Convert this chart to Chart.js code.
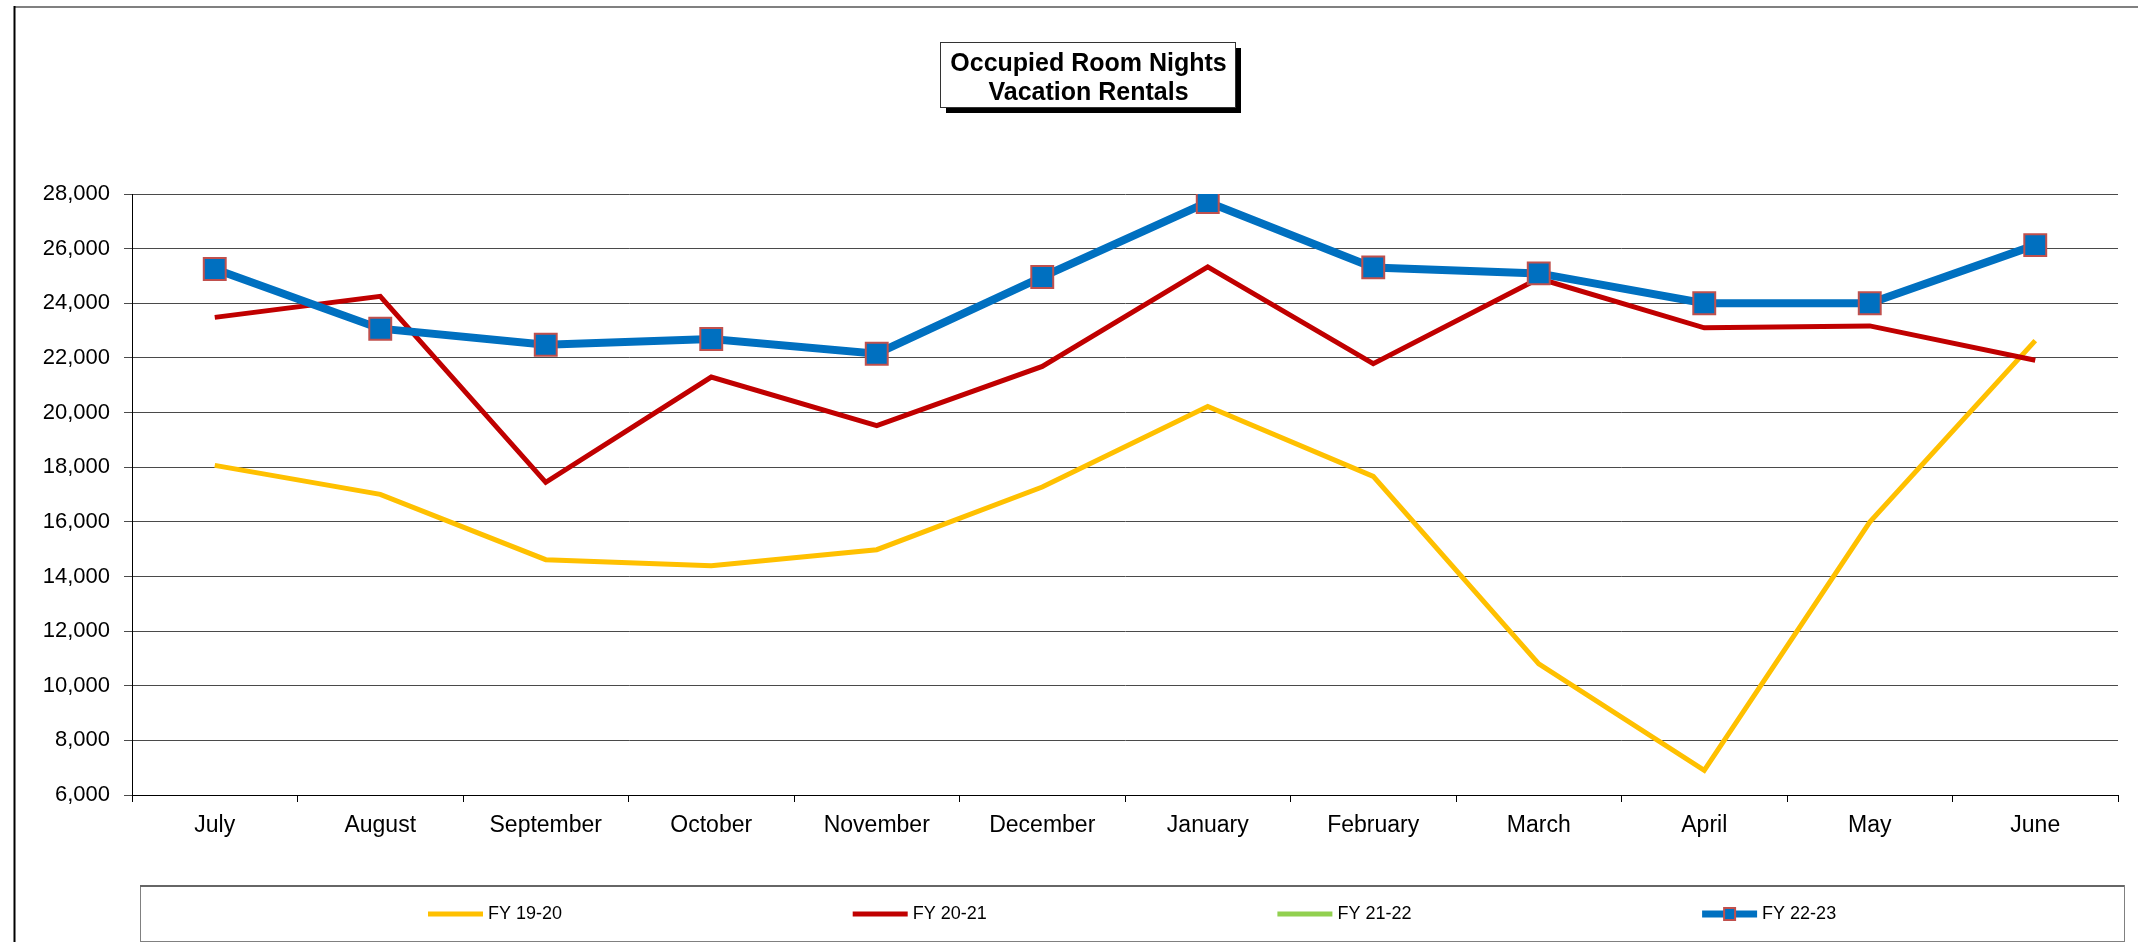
<!DOCTYPE html>
<html><head><meta charset="utf-8">
<script src="https://cdn.jsdelivr.net/npm/chart.js@4.4.1/dist/chart.umd.min.js"></script>
<style>html,body{margin:0;padding:0;background:#fff;overflow:hidden}#wrap{width:2138px;height:942px;position:relative}</style>
</head><body><div id="wrap"><canvas id="c" width="2138" height="942"></canvas></div>
<script>
const TITLE_LINES = ['Occupied Room Nights', 'Vacation Rentals'];
const MONTHS = ['July','August','September','October','November','December','January','February','March','April','May','June'];
const SERIES_LABELS = ['FY 19-20', 'FY 20-21', 'FY 21-22', 'FY 22-23'];
const FY1920 = [18066, 17005, 14615, 14395, 14980, 17275, 20225, 17665, 10800, 6900, 15990, 22635];
const FY2021 = [23484, 24252, 17444, 21300, 19520, 21690, 25330, 21790, 24907, 23100, 23172, 21913];
const FY2122 = [null, null, null, null, null, null, null, null, null, null, null, null];
const FY2223 = [25255, 23070, 22484, 22693, 22155, 24962, 27707, 25313, 25094, 24000, 24000, 26128];
const Y_MIN = 6000, Y_MAX = 28000, Y_STEP = 2000;

const FONT = '"Liberation Sans", Arial, Helvetica, sans-serif';
const COLORS = ['#FFC000', '#C00000', '#92D050', '#0070C0'];
const MARKER_BORDER = '#C0504D';

const framePlugin = {
  id: 'frame',
  beforeDraw(chart) {
    const ctx = chart.ctx;
    ctx.save();
    ctx.fillStyle = '#fff';
    ctx.fillRect(0, 0, chart.width, chart.height);
    ctx.strokeStyle = '#808080'; ctx.lineWidth = 2;
    ctx.beginPath(); ctx.moveTo(14, 7); ctx.lineTo(chart.width, 7); ctx.stroke();
    ctx.strokeStyle = '#000';
    ctx.beginPath(); ctx.moveTo(14.5, 6); ctx.lineTo(14.5, chart.height); ctx.stroke();
    ctx.restore();
  },
  afterDraw(chart) {
    const ctx = chart.ctx;
    ctx.save();
    const tx = 940, ty = 42, tw = 295, th = 65;
    ctx.fillStyle = '#000';
    ctx.fillRect(tx + 6, ty + 6, tw, th);
    ctx.fillStyle = '#fff';
    ctx.fillRect(tx, ty, tw, th);
    ctx.strokeStyle = '#333'; ctx.lineWidth = 1;
    ctx.strokeRect(tx + 0.5, ty + 0.5, tw, th);
    ctx.fillStyle = '#000';
    ctx.font = 'bold 25px ' + FONT;
    ctx.textAlign = 'center'; ctx.textBaseline = 'middle';
    TITLE_LINES.forEach((t, i) => ctx.fillText(t, tx + tw / 2 + 1, ty + 22 + i * 29));

    const lx = 140, ly = 885, lw = 1984, lh = 56;
    ctx.strokeStyle = '#808080'; ctx.lineWidth = 1;
    ctx.strokeRect(lx + 0.5, ly + 0.5, lw, lh);
    ctx.strokeStyle = '#666'; ctx.lineWidth = 2;
    ctx.beginPath(); ctx.moveTo(lx, ly + 1); ctx.lineTo(lx + lw, ly + 1); ctx.stroke();
    ctx.font = '18px ' + FONT;
    ctx.textAlign = 'left'; ctx.textBaseline = 'middle';
    const cy = ly + 29;
    chart.data.datasets.forEach((ds, i) => {
      const x0 = 428 + i * 424.7;
      ctx.strokeStyle = ds.borderColor;
      ctx.lineWidth = i === 3 ? 7 : 5;
      ctx.lineCap = 'butt';
      ctx.beginPath(); ctx.moveTo(x0, cy); ctx.lineTo(x0 + 55, cy); ctx.stroke();
      if (i === 3) {
        ctx.fillStyle = ds.pointBackgroundColor;
        ctx.fillRect(x0 + 22, cy - 6, 11, 12);
        ctx.strokeStyle = MARKER_BORDER; ctx.lineWidth = 2;
        ctx.strokeRect(x0 + 22, cy - 6, 11, 12);
      }
      ctx.fillStyle = '#000';
      ctx.fillText(ds.label, x0 + 60, cy);
    });
    ctx.restore();
  }
};

const datasets = [
  { label: SERIES_LABELS[0], data: FY1920, borderColor: COLORS[0], backgroundColor: COLORS[0], borderWidth: 5, pointRadius: 0, order: 3 },
  { label: SERIES_LABELS[1], data: FY2021, borderColor: COLORS[1], backgroundColor: COLORS[1], borderWidth: 5, pointRadius: 0, order: 2 },
  { label: SERIES_LABELS[2], data: FY2122, borderColor: COLORS[2], backgroundColor: COLORS[2], borderWidth: 5, pointRadius: 0, order: 1 },
  { label: SERIES_LABELS[3], data: FY2223, borderColor: COLORS[3], backgroundColor: COLORS[3], borderWidth: 8,
    pointStyle: 'rect', pointRadius: 15.5, pointBorderWidth: 2, pointBorderColor: MARKER_BORDER, pointBackgroundColor: COLORS[3], order: 0 }
];

new Chart(document.getElementById('c'), {
  type: 'line',
  data: { labels: MONTHS, datasets },
  options: {
    responsive: false,
    devicePixelRatio: 1,
    animation: false,
    events: [],
    layout: { padding: { top: 194, right: 20, left: 0, bottom: 0 } },
    elements: { line: { tension: 0, borderJoinStyle: 'miter' } },
    plugins: { legend: { display: false }, title: { display: false }, tooltip: { enabled: false } },
    scales: {
      x: {
        type: 'category',
        offset: true,
        grid: { offset: true, drawOnChartArea: false, drawTicks: true, tickLength: 7, color: '#000', lineWidth: 1 },
        border: { color: '#000', width: 1 },
        ticks: { color: '#000', font: { family: FONT, size: 23 }, padding: 10, maxRotation: 0, autoSkip: false },
        afterFit: s => { s.height = 147; }
      },
      y: {
        min: Y_MIN, max: Y_MAX,
        grid: { color: '#4a4a4a', lineWidth: 1, tickLength: 8, drawTicks: true },
        border: { color: '#000', width: 1 },
        ticks: {
          stepSize: Y_STEP, color: '#000', padding: 14,
          font: { family: FONT, size: 22 },
          callback: v => v.toLocaleString('en-US')
        },
        afterFit: s => { s.width = 132; }
      }
    }
  },
  plugins: [framePlugin]
});
</script>
</body></html>
